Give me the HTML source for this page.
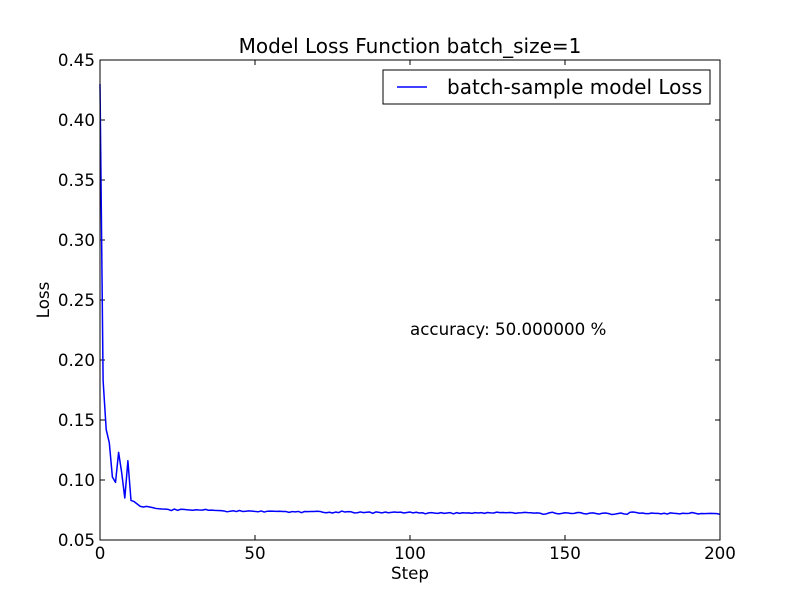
<!DOCTYPE html>
<html><head><meta charset="utf-8"><style>
body{margin:0;background:#fff;}
svg{display:block;font-family:"DejaVu Sans","Liberation Sans",sans-serif;}
</style></head><body>
<svg id="chart" width="800" height="600" viewBox="0 0 800 600" xmlns="http://www.w3.org/2000/svg">
<rect width="800" height="600" fill="#fff"/>
<text x="410" y="53" font-size="20" text-anchor="middle">Model Loss Function batch_size=1</text>
<g id="ticks"></g>
<g id="series"></g>
<rect x="100" y="60" width="620" height="480" fill="none" stroke="#000" stroke-width="1"/>
<text x="410" y="579" font-size="16.7" text-anchor="middle">Step</text>
<text x="49" y="300" font-size="16.7" text-anchor="middle" transform="rotate(-90 49 300)">Loss</text>
<text x="410" y="335" font-size="16.7">accuracy: 50.000000 %</text>
<g>
<rect x="383" y="70" width="327" height="34" fill="#fff" stroke="#000" stroke-width="1"/>
<line x1="397" y1="87" x2="427" y2="87" stroke="#0000ff" stroke-width="1.5"/>
<text x="447" y="94" font-size="20">batch-sample model Loss</text>
</g>
</svg>
<script>
const xTicks=[0,50,100,150,200];
const yTicks=[0.05,0.10,0.15,0.20,0.25,0.30,0.35,0.40,0.45];
const yTickLabels=["0.05","0.10","0.15","0.20","0.25","0.30","0.35","0.40","0.45"];
const lossValues=[0.43,0.183,0.142,0.131,0.1025,0.098,0.123,0.106,0.085,0.116,0.083,0.082,0.080,0.078,0.0775,0.078,0.0775,0.077,0.0763,0.076,
0.0758,0.0757,0.0755,0.0745,0.0758,0.0747,0.0756,0.0755,0.0752,0.075,0.0748,0.0752,0.075,0.0749,0.0755,0.0748,0.0749,0.0747,0.0746,0.0745,
0.0742,0.0735,0.074,0.0744,0.0737,0.0746,0.0738,0.074,0.0743,0.0741,0.0738,0.0735,0.0742,0.0733,0.074,0.0741,0.074,0.0739,0.074,0.0738,
0.0737,0.073,0.0737,0.0734,0.0738,0.0728,0.0738,0.0736,0.0737,0.0738,0.074,0.0738,0.073,0.0727,0.0731,0.0725,0.0733,0.0728,0.0741,0.0733,
0.0736,0.0735,0.0726,0.0727,0.0734,0.0728,0.0731,0.0733,0.0722,0.0734,0.073,0.0726,0.0733,0.0727,0.073,0.0733,0.073,0.0732,0.0725,0.0729,
0.0733,0.0726,0.0731,0.0725,0.0727,0.0718,0.0726,0.0728,0.0724,0.0722,0.0728,0.0722,0.0725,0.0728,0.0718,0.0728,0.0722,0.0727,0.0725,0.0726,
0.0722,0.0728,0.0725,0.0728,0.0722,0.0729,0.0726,0.0725,0.0732,0.0728,0.0729,0.0727,0.0729,0.0728,0.0722,0.0726,0.0727,0.073,0.0728,0.0727,
0.0724,0.0726,0.0723,0.0714,0.0718,0.0727,0.0731,0.0722,0.0718,0.0722,0.0727,0.0725,0.0721,0.0722,0.0729,0.0728,0.072,0.0717,0.0724,0.0726,
0.0721,0.0716,0.0723,0.0725,0.0721,0.0713,0.0715,0.072,0.0725,0.0718,0.0714,0.0731,0.0733,0.0729,0.0723,0.0725,0.072,0.072,0.0725,0.0722,
0.0722,0.0718,0.0723,0.0716,0.0726,0.0723,0.0721,0.0718,0.0723,0.0721,0.0722,0.0729,0.0723,0.0717,0.0721,0.072,0.0721,0.0722,0.0721,0.072,0.0714];
const NS="http://www.w3.org/2000/svg";
const X0=100,X1=720,Y0=540,Y1=60,XMIN=0,XMAX=200,YMIN=0.05,YMAX=0.45;
function xs(v){return X0+(v-XMIN)/(XMAX-XMIN)*(X1-X0);}
function ys(v){return Y0-(v-YMIN)/(YMAX-YMIN)*(Y0-Y1);}
const tg=document.getElementById('ticks');
function mk(tag,attrs,parent){const e=document.createElementNS(NS,tag);for(const k in attrs)e.setAttribute(k,attrs[k]);parent.appendChild(e);return e;}
xTicks.forEach(t=>{
  const x=xs(t);
  mk('line',{x1:x,y1:Y0,x2:x,y2:Y0-5,stroke:'#000'},tg);
  mk('line',{x1:x,y1:Y1,x2:x,y2:Y1+5,stroke:'#000'},tg);
  const tx=mk('text',{x:x,y:Y0+19,'font-size':16.7,'text-anchor':'middle'},tg);
  tx.textContent=String(t);
  
  
});
yTicks.forEach((t,i)=>{
  const y=ys(t);
  mk('line',{x1:X0,y1:y,x2:X0+5,y2:y,stroke:'#000'},tg);
  mk('line',{x1:X1,y1:y,x2:X1-5,y2:y,stroke:'#000'},tg);
  const tx=mk('text',{x:X0-5,y:y+6,'font-size':16.7,'text-anchor':'end'},tg);
  tx.textContent=yTickLabels[i];
  
  
});
const pts=lossValues.map((v,i)=>xs(i).toFixed(2)+','+ys(Math.min(v,YMAX)).toFixed(2)).join(' ');
const pl=mk('polyline',{points:pts,fill:'none',stroke:'#0000ff','stroke-width':1.5,'stroke-linejoin':'round'},document.getElementById('series'));


</script>
</body></html>
